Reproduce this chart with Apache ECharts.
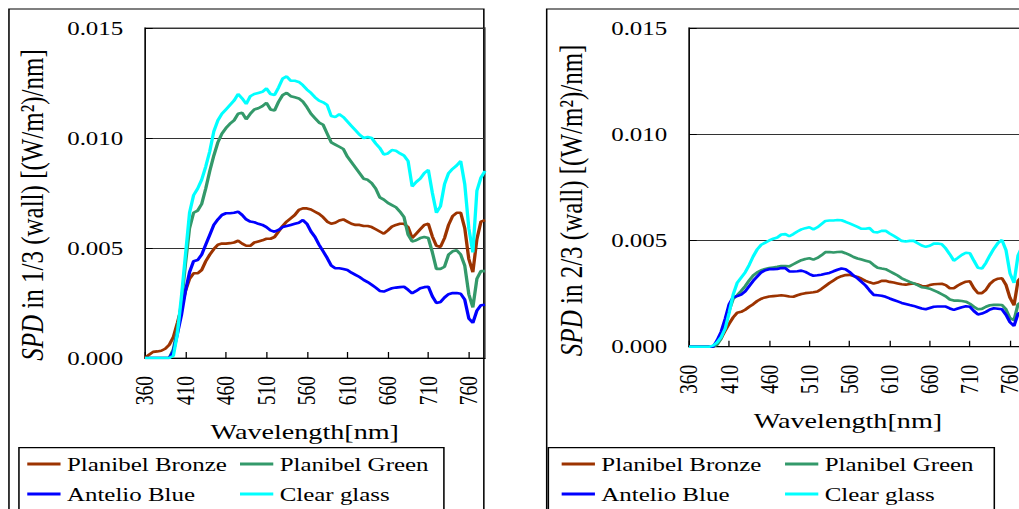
<!DOCTYPE html>
<html>
<head>
<meta charset="utf-8">
<script src="https://cdn.jsdelivr.net/npm/echarts/dist/echarts.min.js"></script>
<style>
  html, body { margin: 0; padding: 0; background: #fff; overflow: hidden; width: 1019px; height: 509px; }
  /* the figure is drawn on a narrower canvas and widened, giving the broad serif look of the original plot */
  #chart { width: 830px; height: 509px; transform: scaleX(1.28); transform-origin: 0 0; }
</style>
</head>
<body>
<div id="chart"></div>
<script>
// Wavelengths [nm]
const wavelengths = [
  360,365,370,375,380,385,390,395,400,405,410,415,420,425,430,435,440,445,450,455,
  460,465,470,475,480,485,490,495,500,505,510,515,520,525,530,535,540,545,550,555,
  560,565,570,575,580,585,590,595,600,605,610,615,620,625,630,635,640,645,650,655,
  660,665,670,675,680,685,690,695,700,705,710,715,720,725,730,735,740,745,750,755,
  760,765,770,775,780
];

// Spectral power density values, in 10^-3 (W/m²)/nm
// Position 1/3 (wall)
const bronzeThird = [
  0,0.15,0.28,0.3,0.33,0.42,0.6,0.95,1.6,2.3,
  3.05,3.6,3.85,3.85,4.0,4.4,4.7,4.95,5.15,5.2,
  5.2,5.22,5.25,5.33,5.2,5.1,5.1,5.25,5.3,5.35,
  5.42,5.42,5.5,5.75,6.0,6.2,6.35,6.5,6.73,6.8,
  6.8,6.75,6.65,6.55,6.4,6.2,6.1,6.15,6.25,6.3,
  6.2,6.1,6.05,6.05,6.0,6.0,5.95,5.85,5.75,5.65,
  5.8,5.97,6.05,6.1,6.1,5.95,5.45,5.65,5.85,6.05,
  6.1,5.52,5.1,5.05,5.45,6.05,6.45,6.6,6.6,5.9,
  4.5,3.9,5.4,6.2,6.27
];
const greenThird = [
  0,0,0,0,0,0,0,0.4,1.3,2.5,
  4.3,5.9,6.6,6.7,7.0,7.7,8.5,9.2,9.8,10.2,
  10.45,10.65,10.8,11.1,11.15,10.85,11.1,11.3,11.35,11.45,
  11.6,11.3,11.25,11.65,11.95,12.05,11.9,11.85,11.8,11.65,
  11.4,11.1,10.9,10.7,10.6,10.2,9.8,9.7,9.6,9.5,
  9.15,8.9,8.65,8.4,8.15,8.1,7.95,7.7,7.3,7.2,
  7.05,6.95,6.85,6.65,6.4,5.6,5.3,5.35,5.45,5.5,
  5.45,4.8,4.05,4.05,4.15,4.7,4.85,4.9,4.7,4.2,
  2.9,2.3,3.6,3.95,3.95
];
const blueThird = [
  0,0,0,0,0,0,0,0.3,1.1,1.95,
  3.05,3.9,4.4,4.45,4.7,5.15,5.6,6.05,6.3,6.5,
  6.58,6.58,6.6,6.65,6.5,6.3,6.2,6.17,6.1,6.05,
  5.95,5.8,5.74,5.82,5.95,6.0,6.05,6.1,6.15,6.27,
  6.1,5.75,5.5,5.15,4.85,4.55,4.2,4.08,4.08,4.05,
  4.0,3.88,3.78,3.68,3.55,3.45,3.33,3.2,3.05,3.02,
  3.1,3.17,3.2,3.22,3.24,3.1,2.94,3.05,3.17,3.22,
  3.24,2.8,2.5,2.55,2.75,2.9,2.95,2.95,2.92,2.65,
  1.8,1.6,2.15,2.4,2.42
];
const clearThird = [
  0,0,0,0,0,0,0,0.1,1.1,2.8,
  4.7,6.6,7.4,7.7,8.1,8.7,9.4,10.3,10.8,11.1,
  11.3,11.5,11.7,12.0,11.8,11.55,11.9,12.0,12.05,12.1,
  12.25,12.0,11.95,12.3,12.7,12.8,12.6,12.6,12.55,12.4,
  12.2,12.05,11.85,11.7,11.62,11.5,11.0,10.95,11.08,10.95,
  10.75,10.55,10.35,10.15,10.0,10.05,10.0,9.75,9.55,9.25,
  9.3,9.45,9.42,9.3,9.2,8.95,7.8,8.0,8.15,8.4,
  8.55,7.5,6.6,6.9,7.9,8.4,8.6,8.75,8.95,7.9,
  5.9,4.8,7.6,8.2,8.5
];

// Position 2/3 (wall)
const bronzeTwoThirds = [
  0,0,0,0,0,0,0,0.15,0.4,0.75,
  1.08,1.38,1.6,1.64,1.74,1.88,2.0,2.15,2.26,2.32,
  2.36,2.38,2.4,2.42,2.4,2.36,2.35,2.42,2.48,2.52,
  2.54,2.56,2.6,2.72,2.86,3.0,3.12,3.24,3.32,3.37,
  3.38,3.33,3.28,3.2,3.1,3.03,2.97,3.02,3.1,3.1,
  3.05,3.02,2.98,2.94,2.92,2.95,2.98,2.93,2.86,2.84,
  2.9,2.94,2.95,2.96,2.9,2.75,2.75,2.88,2.98,3.06,
  3.08,2.75,2.52,2.52,2.68,2.96,3.12,3.2,3.22,2.91,
  2.3,1.95,3.1,3.3,3.3
];
const greenTwoThirds = [
  0,0,0,0,0,0,0,0.1,0.38,0.95,
  1.7,2.25,2.42,2.62,2.85,3.12,3.35,3.5,3.6,3.66,
  3.7,3.73,3.76,3.8,3.8,3.78,3.88,3.98,4.07,4.13,
  4.16,4.1,4.18,4.3,4.45,4.46,4.43,4.46,4.47,4.4,
  4.32,4.22,4.15,4.1,4.05,4.0,3.85,3.72,3.68,3.65,
  3.55,3.45,3.35,3.22,3.13,3.05,2.98,2.9,2.8,2.77,
  2.73,2.65,2.57,2.47,2.37,2.22,2.17,2.17,2.15,2.12,
  2.02,1.88,1.76,1.78,1.88,1.95,1.97,1.97,1.96,1.76,
  1.34,1.25,2.0,2.1,2.1
];
const blueTwoThirds = [
  0,0,0,0,0,0,0,0.3,0.7,1.3,
  2.0,2.33,2.38,2.45,2.6,2.85,3.1,3.3,3.5,3.6,
  3.65,3.65,3.66,3.7,3.7,3.54,3.54,3.55,3.58,3.52,
  3.42,3.34,3.36,3.39,3.43,3.47,3.55,3.62,3.68,3.65,
  3.52,3.35,3.22,3.05,2.88,2.65,2.44,2.42,2.4,2.35,
  2.27,2.2,2.13,2.06,2.01,1.96,1.92,1.86,1.8,1.76,
  1.82,1.88,1.89,1.89,1.89,1.8,1.73,1.8,1.86,1.9,
  1.88,1.68,1.52,1.56,1.64,1.75,1.81,1.79,1.76,1.5,
  1.15,0.98,1.55,1.65,1.65
];
const clearTwoThirds = [
  0,0,0,0,0,0,0.05,0.2,0.45,0.85,
  1.6,2.45,3.0,3.25,3.5,3.85,4.25,4.58,4.8,4.9,
  5.0,5.08,5.14,5.28,5.3,5.2,5.3,5.42,5.52,5.58,
  5.62,5.52,5.62,5.77,5.92,5.94,5.94,5.96,5.95,5.88,
  5.8,5.72,5.64,5.55,5.55,5.58,5.4,5.38,5.45,5.46,
  5.33,5.22,5.1,4.98,4.95,4.98,4.98,4.87,4.76,4.7,
  4.75,4.85,4.86,4.82,4.62,4.35,4.05,4.18,4.32,4.42,
  4.4,4.05,3.72,3.68,3.95,4.3,4.62,4.88,5.02,4.55,
  3.45,3.0,4.3,4.7,4.8
];

const seriesNames = ['Planibel Bronze', 'Planibel Green', 'Antelio Blue', 'Clear glass'];
const seriesColors = ['#9c3300', '#33996a', '#0000ff', '#00ffff'];
const panelNames = [
  '{i|SPD} in 1/3 (wall) [(W/m²)/nm]',
  '{i|SPD} in 2/3 (wall) [(W/m²)/nm]'
];
const panelData = [
  [bronzeThird, greenThird, blueThird, clearThird],
  [bronzeTwoThirds, greenTwoThirds, blueTwoThirds, clearTwoThirds]
];

const FONT = '"Liberation Serif", "Times New Roman", serif';
const black = '#000';

function xAxisFor(idx, namePad) {
  return {
    type: 'value', gridIndex: idx, min: 360, max: 780, interval: 50,
    name: 'Wavelength[nm]', nameLocation: 'middle', nameGap: 62,
    nameTextStyle: { fontSize: 22, fontFamily: FONT, color: black, padding: [0, namePad, 0, 0] },
    axisLine: { lineStyle: { color: black, width: 1 } },
    axisTick: { inside: true, length: 6, lineStyle: { color: black, width: 1 } },
    axisLabel: { rotate: 90, fontSize: 19.5, fontFamily: FONT, color: black, margin: 18, showMaxLabel: false },
    splitLine: { show: false }
  };
}

function yAxisFor(idx, gap, shift) {
  return {
    type: 'value', gridIndex: idx, min: 0, max: 0.015, interval: 0.005,
    name: panelNames[idx], nameLocation: 'middle', nameRotate: 90, nameGap: gap,
    nameTextStyle: {
      fontSize: 25, fontFamily: FONT, color: black, padding: [0, shift, 0, 0],
      rich: { i: { fontStyle: 'italic', fontSize: 25, fontFamily: FONT, color: black } }
    },
    axisLine: { show: true, lineStyle: { color: black, width: 1 } },
    axisTick: { show: true, inside: true, length: 6, lineStyle: { color: black, width: 1 } },
    axisLabel: { formatter: v => v.toFixed(3), fontSize: 19.5, fontFamily: FONT, color: black, margin: 17 },
    splitLine: { show: true, lineStyle: { color: '#333', width: 1 } }
  };
}

const series = [];
panelData.forEach((sets, p) => {
  sets.forEach((vals, k) => {
    series.push({
      type: 'line', name: seriesNames[k], xAxisIndex: p, yAxisIndex: p,
      data: wavelengths.map((w, i) => [w, vals[i] / 1000]),
      showSymbol: false, symbol: 'none', smooth: false,
      lineStyle: { width: 2.6, color: seriesColors[k] },
      itemStyle: { color: seriesColors[k] },
      z: 2 + k
    });
  });
});

function legendAt(names, left) {
  return {
    data: names, orient: 'vertical', left: left, top: 454,
    icon: 'rect', itemWidth: 26, itemHeight: 3, itemGap: 10, padding: 0,
    selectedMode: false,
    textStyle: { fontSize: 19.5, fontFamily: FONT, color: black, lineHeight: 20 }
  };
}

const boxStyle = { fill: 'none', stroke: black, lineWidth: 1.2 };

const option = {
  animation: false,
  backgroundColor: '#fff',
  grid: [
    { left: 113.3, top: 28, width: 265.6, height: 330, show: true, borderColor: '#808080', borderWidth: 1.5, backgroundColor: 'transparent' },
    { left: 538.3, top: 28, width: 263.3, height: 318.7, show: true, borderColor: '#808080', borderWidth: 1.5, backgroundColor: 'transparent' }
  ],
  xAxis: [xAxisFor(0, 16), xAxisFor(1, 15)],
  yAxis: [yAxisFor(0, 76, 24), yAxisFor(1, 80, 26)],
  legend: [
    legendAt(['Planibel Bronze', 'Antelio Blue'], 21.3),
    legendAt(['Planibel Green', 'Clear glass'], 187.5),
    legendAt(['Planibel Bronze', 'Antelio Blue'], 438.8),
    legendAt(['Planibel Green', 'Clear glass'], 613.3)
  ],
  graphic: [
    // panel frames
    { type: 'rect', shape: { x: 7, y: 9, width: 371, height: 600 }, style: boxStyle, silent: true },
    { type: 'rect', shape: { x: 427.1, y: 9, width: 600, height: 600 }, style: boxStyle, silent: true },
    // legend frames
    { type: 'rect', shape: { x: 14.8, y: 447.7, width: 332, height: 100 }, style: boxStyle, silent: true },
    { type: 'rect', shape: { x: 428.4, y: 447.7, width: 348.4, height: 100 }, style: boxStyle, silent: true }
  ],
  series: series
};

const chart = echarts.init(document.getElementById('chart'), null, { renderer: 'svg' });
chart.setOption(option);
</script>
</body>
</html>
